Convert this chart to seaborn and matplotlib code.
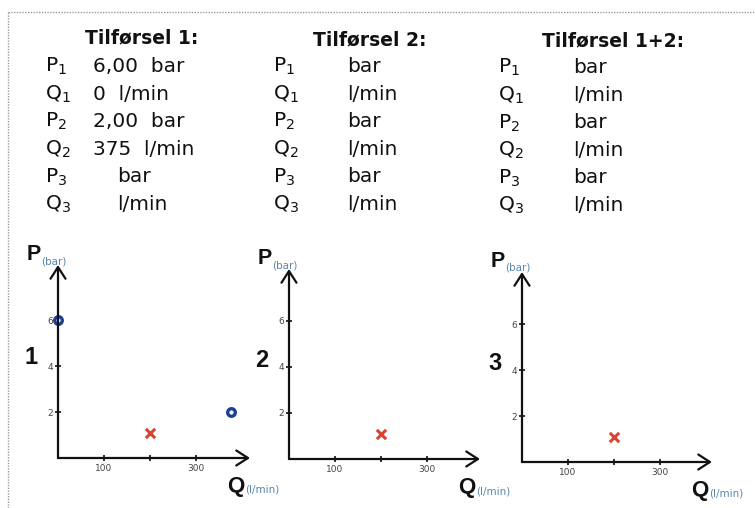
import numpy as np
import pandas as pd
import matplotlib
matplotlib.use("Agg")
import matplotlib.pyplot as plt
import seaborn as sns
from matplotlib.lines import Line2D

# ============================================
# Data read off the worksheet
# ============================================
panel_titles = ["Tilførsel 1:", "Tilførsel 2:", "Tilførsel 1+2:"]
panel_numbers = ["1", "2", "3"]
row_labels = ["P$_1$", "Q$_1$", "P$_2$", "Q$_2$", "P$_3$", "Q$_3$"]
row_units = ["bar", "l/min", "bar", "l/min", "bar", "l/min"]
row_values = [
    ["6,00", "0", "2,00", "375", "", ""],
    ["", "", "", "", "", ""],
    ["", "", "", "", "", ""],
]

# measured points (panel 1 only) and the marked duty point (all panels)
measured_q = [[0, 375], [], []]
measured_p = [[6.0, 2.0], [], []]
duty_q = [200, 200, 200]
duty_p = [1.1, 1.1, 1.1]

x_ticks = [100, 200, 300]
x_ticklabels = ["100", "", "300"]
y_ticks = [2, 4, 6]
y_ticklabels = ["2", "4", "6"]

sns.set_theme(style="white")
plt.rcParams['font.family'] = ['DejaVu Sans']
plt.rcParams['mathtext.fontset'] = 'dejavusans'

W, H = 755, 508
fig = plt.figure(figsize=(W / 100, H / 100), dpi=100)
fig.patch.set_facecolor("white")

# dotted scan border
fig.add_artist(Line2D([8 / W, 1], [1 - 12 / H, 1 - 12 / H], color="#9a9a9a",
                      lw=1, ls=(0, (1, 1)), transform=fig.transFigure))
fig.add_artist(Line2D([8 / W, 8 / W], [0, 1 - 12 / H], color="#9a9a9a",
                      lw=1, ls=(0, (1, 1)), transform=fig.transFigure))

# text block positions (pixels)
title_cx = [142, 370, 613]
title_y = [43, 45, 46]
label_x = [45, 273, 498]
value_x = [93, 347, 573]
row_y0 = [72, 72, 73]
row_dy = 27.6

# axes origins and sizes (pixels)
origins = [(58, 458), (289, 459), (522, 462)]
sizes = [(192, 193), (191, 190), (190, 190)]

blue = "#1d3f95"
red = "#d9432f"
note_col = "#5a86b0"

for i in range(3):
    # ---------- text table ----------
    fig.text(title_cx[i] / W, 1 - title_y[i] / H, panel_titles[i],
             ha="center", va="baseline", fontsize=13.5, fontweight="bold", color="#111")
    for r in range(6):
        yb = 1 - (row_y0[i] + r * row_dy) / H
        fig.text(label_x[i] / W, yb, row_labels[r], ha="left", va="baseline",
                 fontsize=14.5, color="#111")
        val = row_values[i][r]
        if val:
            txt = f"{val}  {row_units[r]}"
            x0 = value_x[i]
        else:
            txt = row_units[r]
            x0 = value_x[i] + (24 if i == 0 else 0)
        fig.text(x0 / W, yb, txt, ha="left", va="baseline", fontsize=14.5, color="#111")

    # ---------- P-Q diagram ----------
    ox, oy = origins[i]
    w, h = sizes[i]
    ax = fig.add_axes([ox / W, (H - oy) / H, w / W, h / H])
    ax.set_xlim(0, w / 0.46)
    ax.set_ylim(0, h / 23.0)
    for s in ax.spines.values():
        s.set_visible(False)
    ax.patch.set_alpha(0)

    # axes with open arrow heads
    arrow = dict(arrowstyle="->,head_length=0.7,head_width=0.45", lw=1.6, color="#111",
                 shrinkA=0, shrinkB=0)
    ax.annotate("", xy=(1, 0), xytext=(0, 0), xycoords="axes fraction",
                arrowprops=arrow, annotation_clip=False, zorder=3)
    ax.annotate("", xy=(0, 1), xytext=(0, 0), xycoords="axes fraction",
                arrowprops=arrow, annotation_clip=False, zorder=3)

    ax.set_xticks(x_ticks)
    ax.set_xticklabels(x_ticklabels)
    ax.set_yticks(y_ticks)
    ax.set_yticklabels(y_ticklabels)
    ax.tick_params(axis="both", direction="inout", length=5, width=1.2,
                   colors="#111", labelsize=6.5, labelcolor="#444",
                   bottom=True, left=True)
    ax.tick_params(axis="x", pad=2)
    ax.tick_params(axis="y", pad=1)
    ax.grid(False)

    if measured_q[i]:
        pts = pd.DataFrame({"Q": measured_q[i], "P": measured_p[i]})
        sns.scatterplot(data=pts, x="Q", y="P", ax=ax, marker="o", s=30,
                        facecolor="white", edgecolor=blue, linewidth=2.4,
                        clip_on=False, zorder=2, legend=False)
    duty = pd.DataFrame({"Q": [duty_q[i]], "P": [duty_p[i]]})
    sns.scatterplot(data=duty, x="Q", y="P", ax=ax, marker="x", s=45,
                    color=red, linewidth=2.2, zorder=4, legend=False)
    ax.set_xlabel("")
    ax.set_ylabel("")

    # axis names
    ax.text(-31 / w, 1 + 5 / h, "P", transform=ax.transAxes, ha="left", va="baseline",
            fontsize=15.5, fontweight="bold", family="Liberation Sans", color="#111")
    ax.text(-17 / w, 1 + 1 / h, "(bar)", transform=ax.transAxes, ha="left", va="baseline",
            fontsize=7.5, color=note_col)
    ax.text(169 / w, -34 / h, "Q", transform=ax.transAxes, ha="left", va="baseline",
            fontsize=16, fontweight="bold", family="Liberation Sans", color="#111")
    ax.text(187 / w, -35 / h, "(l/min)", transform=ax.transAxes, ha="left", va="baseline",
            fontsize=7.5, color=note_col)
    ax.text(-27 / w, 0.52, panel_numbers[i], transform=ax.transAxes, ha="center",
            va="center", fontsize=17, fontweight="bold", family="Liberation Sans",
            color="#111")

fig.savefig("out.png", dpi=100, facecolor="white")
